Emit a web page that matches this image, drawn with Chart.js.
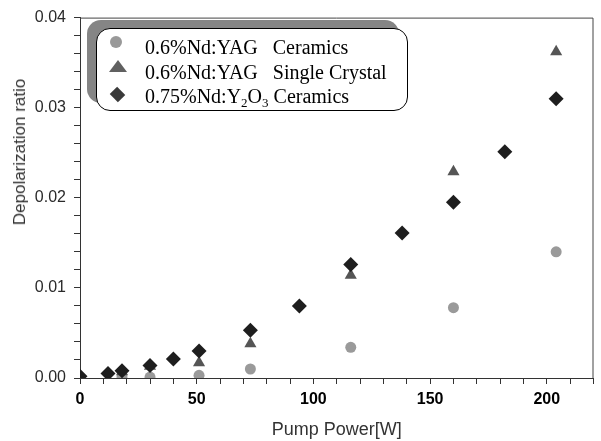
<!DOCTYPE html>
<html lang="en">
<head>
    <meta charset="UTF-8">
    <title>Depolarization ratio vs Pump Power</title>
    <script src="https://cdn.jsdelivr.net/npm/chart.js"></script>
    <style>
        body { margin: 0; background: #fff; }
        #wrap { position: relative; width: 601px; height: 441px; }
        #legend {
            position: absolute; left: 96px; top: 28px; width: 310px; height: 75px;
            border: 1px solid #000; border-radius: 14px; background: #fff;
            box-shadow: -9px -8px 0 #858585;
            font-family: "Liberation Serif", "Times New Roman", serif;
            font-size: 20px; color: #000;
            padding-top: 6px; box-sizing: content-box;
        }
        #legend .row { padding-left: 48px; line-height: 24.5px; height: 24.5px; white-space: nowrap; }
        #legend sub { font-size: 13px; line-height: 0; vertical-align: -4px; }
        .mk { position: absolute; }
        .mk.circle { left: 13px; top: 7px; width: 12px; height: 12px; border-radius: 50%; background: #999; }
        .mk.tri { left: 12px; top: 31px; width: 0; height: 0;
            border-left: 9px solid transparent; border-right: 9px solid transparent; border-bottom: 12px solid #606060; }
        .mk.dia { left: 15px; top: 60px; width: 11px; height: 11px; background: #3a3a3a; transform: rotate(45deg) scale(1.05, 0.95); }
        #ytitle {
            position: absolute; left: 20px; top: 152px; transform: translate(-50%, -50%) rotate(-90deg);
            font-family: "Liberation Sans", Arial, sans-serif; font-size: 17px; color: #333; white-space: nowrap;
        }
    </style>
</head>
<body>
<div id="wrap">
    <canvas id="depolChart" width="601" height="441"></canvas>
    <div id="ytitle">Depolarization ratio</div>
    <div id="legend">
        <span class="mk circle"></span>
        <span class="mk tri"></span>
        <span class="mk dia"></span>
        <div class="row">0.6%Nd:YAG&nbsp;&nbsp; Ceramics</div>
        <div class="row">0.6%Nd:YAG&nbsp;&nbsp; Single Crystal</div>
        <div class="row">0.75%Nd:Y<sub>2</sub>O<sub>3</sub> Ceramics</div>
    </div>
</div>

<script>
    // values
    const powerYagCeramics = [0, 18, 30, 51, 73, 116, 160, 204];
    const ratioYagCeramics = [0.00005, 0.0001, 0.0001, 0.0003, 0.0010, 0.0034, 0.0078, 0.0140];

    const powerYagCrystal = [0, 18, 30, 51, 73, 116, 160, 204];
    const ratioYagCrystal = [0.0001, 0.0007, 0.0013, 0.0017, 0.0038, 0.0114, 0.0229, 0.0362];

    const powerY2O3 = [0, 12, 18, 30, 40, 51, 73, 94, 116, 138, 160, 182, 204];
    const ratioY2O3 = [0.0002, 0.0005, 0.0008, 0.0014, 0.0021, 0.0030, 0.0053, 0.0080, 0.0126, 0.0161, 0.0195, 0.0251, 0.0310];

    const xLabelValues = [0, 50, 100, 150, 200];
    const yLabelValues = [0, 0.01, 0.02, 0.03, 0.04];

    function toPoints(xs, ys) {
        return xs.map((x, i) => ({ x: x, y: ys[i] }));
    }

    // frame on top and right of the plot
    const framePlugin = {
        id: 'frame',
        beforeDatasetsDraw(chart) {
            const a = chart.chartArea;
            const ctx = chart.ctx;
            ctx.save();
            ctx.strokeStyle = '#444';
            ctx.lineWidth = 1;
            ctx.beginPath();
            ctx.moveTo(a.left, a.top + 0.5);
            ctx.lineTo(a.right - 0.5, a.top + 0.5);
            ctx.lineTo(a.right - 0.5, a.bottom);
            ctx.stroke();
            ctx.restore();
        }
    };

    const ctx = document.getElementById('depolChart').getContext('2d');
    new Chart(ctx, {
        type: 'scatter',
        data: {
            datasets: [
                {
                    label: '0.6%Nd:YAG Ceramics',
                    data: toPoints(powerYagCeramics, ratioYagCeramics),
                    pointStyle: 'circle',
                    pointRadius: 5.5,
                    backgroundColor: '#9a9a9a',
                    borderColor: '#9a9a9a',
                    borderWidth: 0,
                    order: 2
                },
                {
                    label: '0.6%Nd:YAG Single Crystal',
                    data: toPoints(powerYagCrystal, ratioYagCrystal),
                    pointStyle: 'triangle',
                    pointRadius: 7,
                    backgroundColor: '#555',
                    borderColor: '#555',
                    borderWidth: 0,
                    order: 1
                },
                {
                    label: '0.75%Nd:Y2O3 Ceramics',
                    data: toPoints(powerY2O3, ratioY2O3),
                    pointStyle: 'rectRot',
                    pointRadius: 7.5,
                    backgroundColor: '#1e1e1e',
                    borderColor: '#1e1e1e',
                    borderWidth: 0,
                    order: 0
                }
            ]
        },
        options: {
            responsive: false,
            animation: false,
            layout: { padding: { top: 16, right: 2, left: 0, bottom: 0 } },
            plugins: {
                legend: { display: false },
                tooltip: { enabled: false }
            },
            scales: {
                x: {
                    type: 'linear',
                    min: 0,
                    max: 220,
                    afterFit: s => { s.height = 63; },
                    border: { color: '#333', width: 1 },
                    grid: { drawOnChartArea: false, tickLength: 6, color: '#333' },
                    ticks: {
                        stepSize: 10,
                        autoSkip: false,
                        includeBounds: false,
                        maxRotation: 0,
                        padding: 6,
                        color: '#000',
                        font: { family: '"Liberation Sans", Arial, sans-serif', size: 16, weight: 'bold' },
                        callback: v => xLabelValues.includes(v) ? String(v) : ''
                    },
                    title: {
                        display: true,
                        text: 'Pump Power[W]',
                        color: '#333',
                        padding: { top: 0, bottom: 0 },
                        font: { family: '"Liberation Sans", Arial, sans-serif', size: 18 }
                    }
                },
                y: {
                    min: 0,
                    max: 0.04,
                    afterFit: s => { s.width = 80; },
                    border: { color: '#333', width: 1 },
                    grid: { drawOnChartArea: false, tickLength: 6, color: '#333' },
                    ticks: {
                        stepSize: 0.002,
                        autoSkip: false,
                        padding: 8,
                        color: '#2a2a2a',
                        font: { family: '"Liberation Sans", Arial, sans-serif', size: 16 },
                        callback: v => yLabelValues.some(t => Math.abs(t - v) < 1e-9) ? v.toFixed(2) : ''
                    }
                }
            }
        },
        plugins: [framePlugin]
    });
</script>
</body>
</html>
